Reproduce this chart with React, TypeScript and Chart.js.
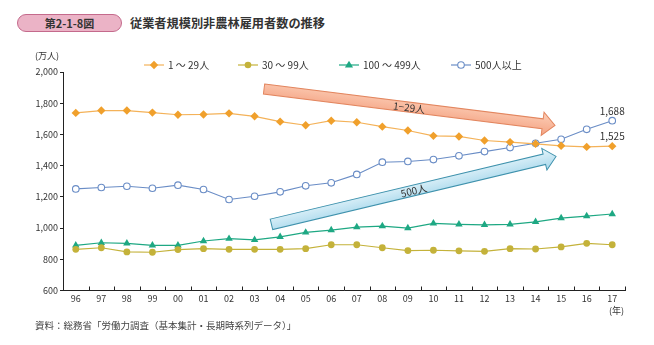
import React, { useEffect, useRef } from 'react';
import { Chart, registerables } from 'chart.js';

Chart.register(...registerables);

const FONT = "'Noto Sans CJK JP', 'Noto Sans', sans-serif";

// ---- data ----
const years = ['96', '97', '98', '99', '00', '01', '02', '03', '04', '05', '06', '07', '08', '09', '10', '11', '12', '13', '14', '15', '16', '17'];
const seriesNames = ['1 ～ 29人', '30 ～ 99人', '100 ～ 499人', '500人以上'];
const size1to29 = [1738, 1753, 1753, 1740, 1726, 1728, 1735, 1716, 1682, 1659, 1688, 1678, 1650, 1625, 1591, 1587, 1561, 1551, 1540, 1527, 1520, 1525];
const size30to99 = [864, 874, 847, 845, 862, 868, 864, 864, 864, 868, 893, 893, 874, 856, 858, 854, 851, 868, 866, 879, 902, 893];
const size100to499 = [889, 906, 902, 889, 889, 917, 932, 925, 944, 972, 987, 1006, 1013, 1000, 1030, 1024, 1021, 1024, 1040, 1064, 1077, 1090];
const size500plus = [1251, 1260, 1268, 1255, 1275, 1247, 1183, 1204, 1232, 1271, 1290, 1344, 1422, 1427, 1439, 1463, 1490, 1516, 1543, 1569, 1633, 1688];
const yTicks = [600, 800, 1000, 1200, 1400, 1600, 1800, 2000];

// trend arrows (data coordinates: category index, value)
const arrowSmall = { text: '1−29人', from: [7.37, 1891], to: [18.76, 1658] };
const arrowLarge = { text: '500人', from: [7.66, 1024], to: [18.8, 1459] };

const COLORS = {
  orange: '#f0a02c',
  orangeLine: '#f4b259',
  olive: '#c4b23a',
  green: '#1ea883',
  blue: '#6a8dc6',
};

function drawMarker(ctx: CanvasRenderingContext2D, kind: string, x: number, y: number, color: string) {
  ctx.save();
  ctx.beginPath();
  if (kind === 'diamond') {
    const r = 4.2;
    ctx.moveTo(x, y - r);
    ctx.lineTo(x + r, y);
    ctx.lineTo(x, y + r);
    ctx.lineTo(x - r, y);
    ctx.closePath();
    ctx.fillStyle = color;
    ctx.fill();
  } else if (kind === 'circle') {
    ctx.arc(x, y, 3.3, 0, Math.PI * 2);
    ctx.fillStyle = color;
    ctx.fill();
  } else if (kind === 'triangle') {
    const r = 4.3;
    ctx.moveTo(x, y - r);
    ctx.lineTo(x + r * 0.95, y + r * 0.6);
    ctx.lineTo(x - r * 0.95, y + r * 0.6);
    ctx.closePath();
    ctx.fillStyle = color;
    ctx.fill();
  } else {
    ctx.arc(x, y, 3.3, 0, Math.PI * 2);
    ctx.fillStyle = '#fff';
    ctx.fill();
    ctx.lineWidth = 1.1;
    ctx.strokeStyle = color;
    ctx.stroke();
  }
  ctx.restore();
}

function drawArrow(
  ctx: CanvasRenderingContext2D,
  x0: number, y0: number, x1: number, y1: number,
  shaft: number, head: number, headLen: number,
  c1: string, c2: string, stroke: string, text: string
) {
  const ang = Math.atan2(y1 - y0, x1 - x0);
  const L = Math.hypot(x1 - x0, y1 - y0);
  ctx.save();
  ctx.translate(x0, y0);
  ctx.rotate(ang);
  ctx.beginPath();
  ctx.moveTo(0, -shaft / 2);
  ctx.lineTo(L - headLen, -shaft / 2);
  ctx.lineTo(L - headLen, -head / 2);
  ctx.lineTo(L, 0);
  ctx.lineTo(L - headLen, head / 2);
  ctx.lineTo(L - headLen, shaft / 2);
  ctx.lineTo(0, shaft / 2);
  ctx.closePath();
  const g = ctx.createLinearGradient(0, -head / 2, 0, head / 2);
  g.addColorStop(0, c1);
  g.addColorStop(1, c2);
  ctx.fillStyle = g;
  ctx.fill();
  ctx.lineWidth = 1;
  ctx.strokeStyle = stroke;
  ctx.stroke();
  ctx.fillStyle = '#333';
  ctx.font = `10px ${FONT}`;
  ctx.textAlign = 'center';
  ctx.textBaseline = 'middle';
  ctx.fillText(text, (L - headLen) / 2 + 6, 0.5);
  ctx.restore();
}

const decorPlugin = {
  id: 'decor',
  beforeDatasetsDraw(chart: any) {
    const ctx = chart.ctx as CanvasRenderingContext2D;
    const xs = chart.scales.x;
    const ys = chart.scales.y;
    const px = (p: number[]) => [xs.getPixelForValue(p[0]), ys.getPixelForValue(p[1])];
    const [a0x, a0y] = px(arrowSmall.from);
    const [a1x, a1y] = px(arrowSmall.to);
    drawArrow(ctx, a0x, a0y, a1x, a1y, 10, 23.5, 12.5, '#fccfb8', '#f4a282', '#e3865f', arrowSmall.text);
    const [b0x, b0y] = px(arrowLarge.from);
    const [b1x, b1y] = px(arrowLarge.to);
    drawArrow(ctx, b0x, b0y, b1x, b1y, 10.7, 22.2, 12, '#e6f5fb', '#a6d7eb', '#3f92ad', arrowLarge.text);
  },
  afterDraw(chart: any) {
    const ctx = chart.ctx as CanvasRenderingContext2D;
    const area = chart.chartArea;
    const xs = chart.scales.x;
    const ys = chart.scales.y;
    // inward x-axis ticks at category boundaries
    ctx.save();
    ctx.strokeStyle = '#222';
    ctx.lineWidth = 1;
    const n = years.length;
    const step = (area.right - area.left) / n;
    for (let i = 1; i <= n; i++) {
      const x = Math.round(area.left + i * step) + 0.5;
      ctx.beginPath();
      ctx.moveTo(x, area.bottom);
      ctx.lineTo(x, area.bottom - 4);
      ctx.stroke();
    }
    ctx.restore();

    // end value labels
    ctx.save();
    ctx.fillStyle = '#333';
    ctx.font = `10px ${FONT}`;
    ctx.textAlign = 'center';
    ctx.textBaseline = 'middle';
    const last = years.length - 1;
    const lx = xs.getPixelForValue(last);
    ctx.fillText(size500plus[last].toLocaleString('en-US'), lx, ys.getPixelForValue(size500plus[last]) - 9.5);
    ctx.fillText(size1to29[last].toLocaleString('en-US'), lx, ys.getPixelForValue(size1to29[last]) - 9.5);
    ctx.restore();

    // legend
    const items = [
      { name: seriesNames[0], kind: 'diamond', color: COLORS.orange, line: COLORS.orangeLine, x: 144 },
      { name: seriesNames[1], kind: 'circle', color: COLORS.olive, line: COLORS.olive, x: 238 },
      { name: seriesNames[2], kind: 'triangle', color: COLORS.green, line: COLORS.green, x: 339 },
      { name: seriesNames[3], kind: 'hollow', color: COLORS.blue, line: COLORS.blue, x: 451 },
    ];
    const ly = 65;
    ctx.save();
    ctx.font = `10px ${FONT}`;
    ctx.textBaseline = 'middle';
    ctx.textAlign = 'left';
    for (const it of items) {
      ctx.strokeStyle = it.line;
      ctx.lineWidth = 1.2;
      ctx.beginPath();
      ctx.moveTo(it.x, ly);
      ctx.lineTo(it.x + 20, ly);
      ctx.stroke();
      drawMarker(ctx, it.kind, it.x + 10, ly, it.color);
      ctx.fillStyle = '#333';
      ctx.fillText(it.name, it.x + 24, ly);
    }
    ctx.restore();
  },
};

export default function App() {
  const ref = useRef<HTMLCanvasElement | null>(null);

  useEffect(() => {
    if (!ref.current) return;
    const chart = new Chart(ref.current, {
      type: 'line',
      data: {
        labels: years,
        datasets: [
          {
            label: seriesNames[0],
            data: size1to29,
            borderColor: COLORS.orangeLine,
            backgroundColor: COLORS.orange,
            borderWidth: 1.2,
            pointStyle: 'rectRot',
            pointRadius: 4.2,
            pointBorderWidth: 0,
            pointBackgroundColor: COLORS.orange,
          },
          {
            label: seriesNames[1],
            data: size30to99,
            borderColor: COLORS.olive,
            backgroundColor: COLORS.olive,
            borderWidth: 1.2,
            pointStyle: 'circle',
            pointRadius: 3.4,
            pointBorderWidth: 0,
            pointBackgroundColor: COLORS.olive,
          },
          {
            label: seriesNames[2],
            data: size100to499,
            borderColor: COLORS.green,
            backgroundColor: COLORS.green,
            borderWidth: 1.2,
            pointStyle: 'triangle',
            pointRadius: 4.3,
            pointBorderWidth: 0,
            pointBackgroundColor: COLORS.green,
          },
          {
            label: seriesNames[3],
            data: size500plus,
            borderColor: COLORS.blue,
            backgroundColor: '#ffffff',
            borderWidth: 1.1,
            pointStyle: 'circle',
            pointRadius: 3.3,
            pointBorderWidth: 1.1,
            pointBorderColor: COLORS.blue,
            pointBackgroundColor: '#ffffff',
          },
        ],
      },
      options: {
        responsive: false,
        animation: false,
        devicePixelRatio: 1,
        layout: { padding: { top: 72, right: 29, left: 0, bottom: 0 } },
        plugins: {
          legend: { display: false },
          tooltip: { enabled: false },
        },
        scales: {
          x: {
            type: 'category',
            offset: true,
            grid: { display: true, drawOnChartArea: false, drawTicks: false, color: 'rgba(0,0,0,0)' },
            border: { display: true, color: '#222', width: 1 },
            ticks: { color: '#333', font: { family: FONT, size: 9 }, padding: 3, maxRotation: 0, autoSkip: false },
            afterFit: (scale: any) => { scale.height = 54.5; },
          },
          y: {
            min: 600,
            max: 2000,
            afterBuildTicks: (scale: any) => { scale.ticks = yTicks.map((v) => ({ value: v })); },
            grid: { drawOnChartArea: false, drawTicks: true, tickLength: 3, color: '#222' },
            border: { display: true, color: '#222', width: 1 },
            ticks: {
              color: '#333',
              font: { family: FONT, size: 9 },
              padding: 2,
              callback: (v: any) => Number(v).toLocaleString('en-US'),
            },
            afterFit: (scale: any) => { scale.width = 63; },
          },
        },
      },
      plugins: [decorPlugin],
    });
    return () => chart.destroy();
  }, []);

  return (
    <div style={{ position: 'fixed', left: 0, top: 0, width: 654, height: 345, background: '#fff', fontFamily: FONT, color: '#333' }}>
      <div
        style={{
          position: 'absolute', left: 17, top: 14, width: 105, height: 18, boxSizing: 'border-box',
          border: '1px solid #c46a8c', borderRadius: 9, background: '#ebb3c6',
          fontSize: 11, fontWeight: 'bold', textAlign: 'center', lineHeight: '16px', color: '#333',
        }}
      >
        第2-1-8図
      </div>
      <div style={{ position: 'absolute', left: 130, top: 14, fontSize: 12.2, fontWeight: 'bold', lineHeight: '18px', whiteSpace: 'nowrap' }}>
        従業者規模別非農林雇用者数の推移
      </div>
      <canvas ref={ref} width={654} height={345} style={{ position: 'absolute', left: 0, top: 0, width: 654, height: 345 }} />
      <div style={{ position: 'absolute', left: 35, top: 50, fontSize: 9, lineHeight: '12px', whiteSpace: 'nowrap' }}>(万人)</div>
      <div style={{ position: 'absolute', left: 609, top: 305, fontSize: 9, lineHeight: '12px', whiteSpace: 'nowrap' }}>(年)</div>
      <div style={{ position: 'absolute', left: 35, top: 319, fontSize: 9.5, lineHeight: '12px', whiteSpace: 'nowrap', color: '#444' }}>
        資料：総務省「労働力調査（基本集計・長期時系列データ）」
      </div>
    </div>
  );
}
